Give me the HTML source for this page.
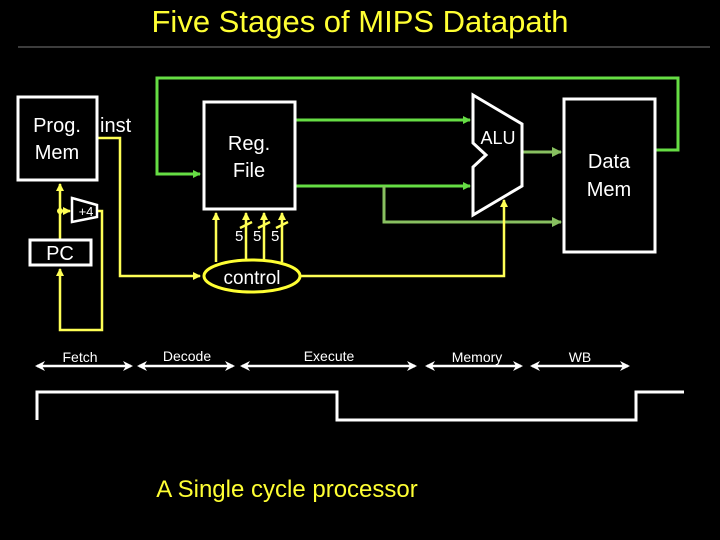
<!DOCTYPE html>
<html><head><meta charset="utf-8"><style>
html,body{margin:0;padding:0;background:#000;}
svg{display:block}
text{font-family:"Liberation Sans","DejaVu Sans",sans-serif;}
</style></head><body>
<svg width="720" height="540" viewBox="0 0 720 540" xmlns="http://www.w3.org/2000/svg">
<defs>
<marker id="ag" markerWidth="8" markerHeight="8" refX="7" refY="4" orient="auto" markerUnits="userSpaceOnUse"><path d="M0,0 L8,4 L0,8 Z" fill="#66dd44"/></marker>
<marker id="ag2" markerWidth="10" markerHeight="10" refX="9" refY="5" orient="auto" markerUnits="userSpaceOnUse"><path d="M0,0 L10,5 L0,10 Z" fill="#88c060"/></marker>
<marker id="ay" markerWidth="8" markerHeight="8" refX="7" refY="4" orient="auto" markerUnits="userSpaceOnUse"><path d="M0,0 L8,4 L0,8 Z" fill="#ffff55"/></marker>
<marker id="aw" markerWidth="10" markerHeight="10" refX="8" refY="5" orient="auto-start-reverse" markerUnits="userSpaceOnUse"><path d="M0,0 L10,5 L0,10 L3,5 Z" fill="#fff"/></marker>
</defs>
<text x="360" y="32" fill="#ffff33" font-size="31" text-anchor="middle">Five Stages of MIPS Datapath</text>
<line x1="18" y1="47" x2="710" y2="47" stroke="#777" stroke-width="1"/>

<g fill="none" stroke="#66dd44" stroke-width="3">
<path d="M655,150 L678,150 L678,78 L157,78 L157,174 L200,174" marker-end="url(#ag)"/>
<path d="M295,120 L470,120" marker-end="url(#ag)"/>
<path d="M295,186 L470,186" marker-end="url(#ag)"/>
</g>
<g fill="none" stroke="#88c060" stroke-width="3">
<path d="M384,186 L384,222 L561,222" marker-end="url(#ag2)"/>
<path d="M522,152 L561,152" marker-end="url(#ag2)"/>
</g>

<g fill="none" stroke="#ffff55" stroke-width="2.5">
<path d="M97,138 L120,138 L120,276 L200,276" marker-end="url(#ay)"/>
<path d="M300,276 L504,276 L504,200" marker-end="url(#ay)"/>
<path d="M60,240 L60,184" marker-end="url(#ay)"/>
<path d="M60,211 L70,211" marker-end="url(#ay)"/>
<path d="M97,211 L102,211 L102,330 L60,330 L60,269" marker-end="url(#ay)"/>
<path d="M216,262 L216,213" marker-end="url(#ay)"/>
<path d="M246,262 L246,213" marker-end="url(#ay)"/>
<path d="M264,262 L264,213" marker-end="url(#ay)"/>
<path d="M282,262 L282,213" marker-end="url(#ay)"/>
<path d="M240,228 L252,222 M258,228 L270,222 M276,228 L288,222"/>
</g>
<circle cx="60" cy="211" r="3" fill="#ffff55"/>
<ellipse cx="252" cy="276" rx="48" ry="16" fill="#000" stroke="#ffff33" stroke-width="3"/>
<text x="252" y="284" fill="#fff" font-size="19" text-anchor="middle">control</text>
<text x="235" y="241" fill="#fff" font-size="15">5</text>
<text x="253" y="241" fill="#fff" font-size="15">5</text>
<text x="271" y="241" fill="#fff" font-size="15">5</text>

<rect x="18" y="97" width="79" height="83" fill="#000" stroke="#fff" stroke-width="3"/>
<text x="57" y="132" fill="#fff" font-size="20" text-anchor="middle">Prog.</text>
<text x="57" y="159" fill="#fff" font-size="20" text-anchor="middle">Mem</text>
<text x="100" y="132" fill="#fff" font-size="20">inst</text>
<rect x="204" y="102" width="91" height="107" fill="#000" stroke="#fff" stroke-width="3"/>
<text x="249" y="150" fill="#fff" font-size="20" text-anchor="middle">Reg.</text>
<text x="249" y="177" fill="#fff" font-size="20" text-anchor="middle">File</text>
<rect x="30" y="240" width="61" height="25" fill="#000" stroke="#fff" stroke-width="3"/>
<text x="60" y="260" fill="#fff" font-size="20" text-anchor="middle">PC</text>
<path d="M72,198 L97,205 L97,217 L72,222 Z" fill="#000" stroke="#fff" stroke-width="2.5"/>
<text x="86" y="216" fill="#fff" font-size="13" text-anchor="middle">+4</text>
<path d="M473,95 L522,124 L522,186 L473,215 L473,167 L486,155 L473,143 Z" fill="#000" stroke="#fff" stroke-width="3"/>
<text x="498" y="144" fill="#fff" font-size="18" text-anchor="middle">ALU</text>
<rect x="564" y="99" width="91" height="153" fill="#000" stroke="#fff" stroke-width="3"/>
<text x="609" y="168" fill="#fff" font-size="20" text-anchor="middle">Data</text>
<text x="609" y="196" fill="#fff" font-size="20" text-anchor="middle">Mem</text>

<g stroke="#fff" stroke-width="2.5" fill="none">
<line x1="37" y1="366" x2="131" y2="366" marker-start="url(#aw)" marker-end="url(#aw)"/>
<line x1="139" y1="366" x2="233" y2="366" marker-start="url(#aw)" marker-end="url(#aw)"/>
<line x1="242" y1="366" x2="415" y2="366" marker-start="url(#aw)" marker-end="url(#aw)"/>
<line x1="427" y1="366" x2="521" y2="366" marker-start="url(#aw)" marker-end="url(#aw)"/>
<line x1="532" y1="366" x2="628" y2="366" marker-start="url(#aw)" marker-end="url(#aw)"/>
<path d="M37,420 L37,392 L337,392 L337,420 L636,420 L636,392 L684,392" stroke-width="3"/>
</g>
<g fill="#fff" font-size="14" text-anchor="middle">
<text x="80" y="362">Fetch</text>
<text x="187" y="361">Decode</text>
<text x="329" y="361">Execute</text>
<text x="477" y="362">Memory</text>
<text x="580" y="362">WB</text>
</g>
<text x="287" y="497" fill="#ffff33" font-size="24" text-anchor="middle">A Single cycle processor</text>
</svg>
</body></html>
